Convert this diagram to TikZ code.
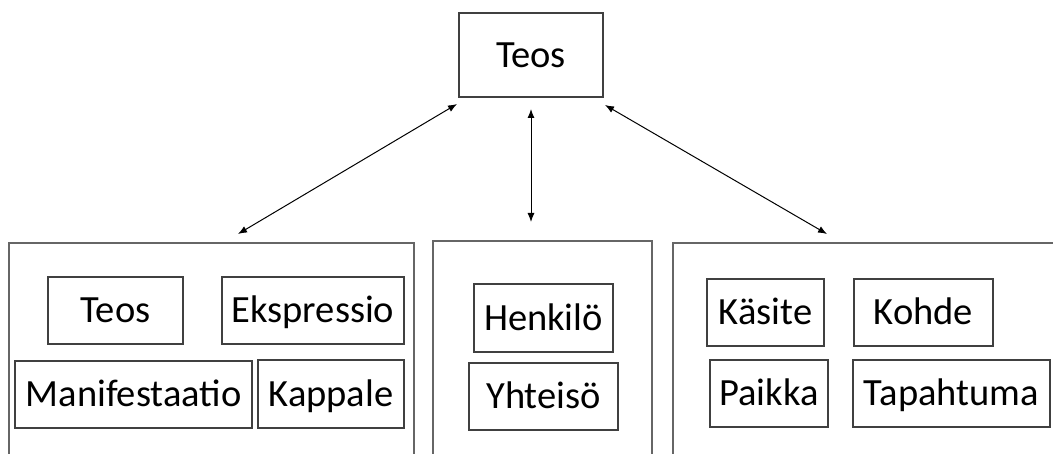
\documentclass[tikz,border=0pt]{standalone}
\usepackage{fontspec}
\setmainfont{Carlito}
\usetikzlibrary{arrows.meta}

\tikzset{
  ryhma/.style={draw=black!60, line width=1.3pt, inner sep=0pt, outer sep=0pt},
  laatikko/.style={draw=black!75, line width=1.3pt, inner sep=0pt, outer sep=0pt,
    font=\fontsize{38.5}{42}\selectfont, text height=24.5pt, text depth=0pt},
  nuoli/.style={line width=1pt, {Latex[length=9pt,width=7pt]}-{Latex[length=9pt,width=7pt]}}
}

\begin{document}
\begin{tikzpicture}[x=1pt, y=-1pt]
    \useasboundingbox (0,0) rectangle (1053,454);
    \clip (0,0) rectangle (1053,454);% the group boxes run off the page
    % top entity
    \node[laatikko, minimum width=144pt, minimum height=84pt] (teos) at (531,55) {Teos};
    % the three groups
    \node[ryhma, minimum width=405pt, minimum height=237pt] (ryhma1) at (211.5,361.5) {};
    \node[ryhma, minimum width=219pt, minimum height=239pt] (ryhma2) at (542.5,360.5) {};
    \node[ryhma, minimum width=407pt, minimum height=237pt] (ryhma3) at (876.5,361.5) {};
    % group 1
    \node[laatikko, minimum width=135pt, minimum height=67pt] (teos1) at (115.5,310.5) {Teos};
    \node[laatikko, minimum width=182pt, minimum height=67pt] (ekspressio) at (313,310.5) {Ekspressio};
    \node[laatikko, minimum width=237pt, minimum height=67pt] (manifestaatio) at (133.5,394.5) {Manifestaatio};
    \node[laatikko, minimum width=146pt, minimum height=68pt] (kappale) at (331,394) {Kappale};
    % group 2
    \node[laatikko, minimum width=139pt, minimum height=68pt] (henkilo) at (543.5,318) {Henkilö};
    \node[laatikko, minimum width=149pt, minimum height=67pt] (yhteiso) at (543.5,396.5) {Yhteisö};
    % group 3
    \node[laatikko, minimum width=117pt, minimum height=67pt] (kasite) at (765.5,312.5) {Käsite};
    \node[laatikko, minimum width=139pt, minimum height=67pt] (kohde) at (923.5,312.5) {Kohde};
    \node[laatikko, minimum width=118pt, minimum height=67pt] (paikka) at (769,393.5) {Paikka};
    \node[laatikko, minimum width=197pt, minimum height=67pt] (tapahtuma) at (951.5,393.5) {Tapahtuma};
    % relations
    \draw[nuoli] ([xshift=-2pt,yshift=-7pt]teos.south west)
        -- ([xshift=229pt,yshift=9pt]ryhma1.north west);
    \draw[nuoli, shorten <=12pt, shorten >=19pt] (teos.south) -- (teos.south |- ryhma2.north);
    \draw[nuoli] ([xshift=2pt,yshift=-8pt]teos.south east)
        -- ([xshift=154pt,yshift=9pt]ryhma3.north west);
\end{tikzpicture}
\end{document}
